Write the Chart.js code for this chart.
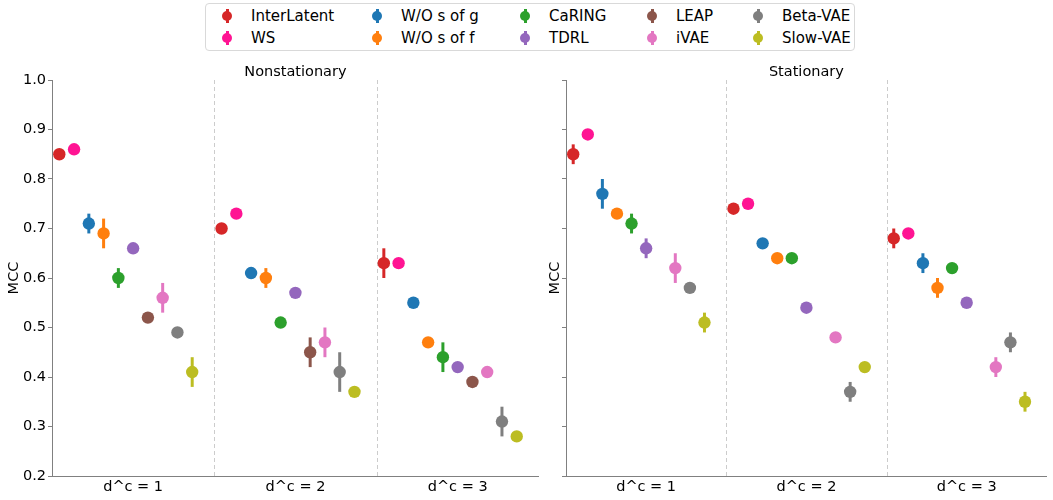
<!DOCTYPE html>
<html>
<head>
<meta charset="utf-8">
<script src="https://cdn.jsdelivr.net/npm/chart.js@4/dist/chart.umd.min.js"></script>
<style>
  html, body { margin: 0; padding: 0; background: #fff; }
  body { width: 1053px; height: 500px; position: relative; overflow: hidden; font-family: 'DejaVu Sans', sans-serif; }
  canvas { position: absolute; }
  #left { left: 0; top: 55px; }
  #right { left: 541px; top: 55px; }
  #legend {
    position: absolute; left: 205px; top: 3px; width: 650px; height: 48px;
    border: 1px solid #d9d9d9; border-radius: 4px; box-sizing: border-box;
    display: grid; grid-template-columns: 150px 148px 127px 106px auto;
    grid-auto-flow: column; grid-template-rows: 22px 22px;
    padding: 1px 0 0 12px; font-size: 15px; color: #000;
  }
  .item { display: flex; align-items: center; white-space: nowrap; }
  .mk { position: relative; width: 18px; height: 16px; margin-right: 15px; }
  .mk .bar { position: absolute; left: 7.5px; top: 1px; width: 3px; height: 14px; }
  .mk .dot { position: absolute; left: 4px; top: 3px; width: 10px; height: 10px; border-radius: 50%; }
</style>
</head>
<body>
<div id="legend"></div>
<canvas id="left" width="545" height="445"></canvas>
<canvas id="right" width="512" height="445"></canvas>
<script>
const methods = ['InterLatent', 'WS', 'W/O s of g', 'W/O s of f', 'CaRING', 'TDRL', 'LEAP', 'iVAE', 'Beta-VAE', 'Slow-VAE'];
const colors = ['#d62728', '#ff1493', '#1f77b4', '#ff7f0e', '#2ca02c', '#9467bd', '#8c564b', '#e377c2', '#7f7f7f', '#bcbd22'];
const groupLabels = ['d^c = 1', 'd^c = 2', 'd^c = 3'];
const yTickValues = [0.2, 0.3, 0.4, 0.5, 0.6, 0.7, 0.8, 0.9, 1.0];

// one row per method, one column per d^c group
const nonstatMean = [
  [0.85, 0.70, 0.63],
  [0.86, 0.73, 0.63],
  [0.71, 0.61, 0.55],
  [0.69, 0.60, 0.47],
  [0.60, 0.51, 0.44],
  [0.66, 0.57, 0.42],
  [0.52, 0.45, 0.39],
  [0.56, 0.47, 0.41],
  [0.49, 0.41, 0.31],
  [0.41, 0.37, 0.28]
];
const nonstatErr = [
  [0.01, 0.01, 0.03],
  [0.01, 0.01, 0.01],
  [0.02, 0.01, 0.01],
  [0.03, 0.02, 0.01],
  [0.02, 0.01, 0.03],
  [0.01, 0.01, 0.01],
  [0.01, 0.03, 0.01],
  [0.03, 0.03, 0.01],
  [0.01, 0.04, 0.03],
  [0.03, 0.01, 0.01]
];
const statMean = [
  [0.85, 0.74, 0.68],
  [0.89, 0.75, 0.69],
  [0.77, 0.67, 0.63],
  [0.73, 0.64, 0.58],
  [0.71, 0.64, 0.62],
  [0.66, 0.54, 0.55],
  [null, null, null],
  [0.62, 0.48, 0.42],
  [0.58, 0.37, 0.47],
  [0.51, 0.42, 0.35]
];
const statErr = [
  [0.02, 0.01, 0.02],
  [0.01, 0.01, 0.01],
  [0.03, 0.01, 0.02],
  [0.01, 0.01, 0.02],
  [0.02, 0.01, 0.01],
  [0.02, 0.01, 0.01],
  [0, 0, 0],
  [0.03, 0.01, 0.02],
  [0.01, 0.02, 0.02],
  [0.02, 0.01, 0.02]
];

const DODGE = 0.091; // horizontal step between methods inside a group
const AXIS_GREY = '#808080';

Chart.defaults.font.family = "'DejaVu Sans', sans-serif";
Chart.defaults.font.size = 14.5;
Chart.defaults.color = '#000';

// legend (shared by both panels)
const legendEl = document.getElementById('legend');
methods.forEach((m, i) => {
  const it = document.createElement('div');
  it.className = 'item';
  it.innerHTML = '<span class="mk"><span class="bar" style="background:' + colors[i] +
    '"></span><span class="dot" style="background:' + colors[i] + '"></span></span><span>' + m + '</span>';
  legendEl.appendChild(it);
});

// dashed group separators + vertical error bars
const errorBars = {
  id: 'errorBars',
  beforeDatasetsDraw(chart) {
    const { ctx, chartArea, scales: { x, y } } = chart;
    ctx.save();
    ctx.strokeStyle = '#cccccc';
    ctx.lineWidth = 1;
    ctx.setLineDash([4, 3]);
    [0.5, 1.5].forEach(v => {
      const px = Math.round(x.getPixelForValue(v)) + 0.5;
      ctx.beginPath();
      ctx.moveTo(px, chartArea.top);
      ctx.lineTo(px, chartArea.bottom);
      ctx.stroke();
    });
    ctx.setLineDash([]);
    ctx.lineWidth = 3;
    chart.data.datasets.forEach(ds => {
      ctx.strokeStyle = ds.backgroundColor;
      ds.data.forEach(p => {
        if (p.y == null || !p.err) return;
        const px = x.getPixelForValue(p.x);
        ctx.beginPath();
        ctx.moveTo(px, y.getPixelForValue(p.y - p.err));
        ctx.lineTo(px, y.getPixelForValue(p.y + p.err));
        ctx.stroke();
      });
    });
    ctx.restore();
  }
};

function makeChart(id, title, means, errs, showLabels, yWidth, padRight) {
  const datasets = methods.map((m, i) => ({
    label: m,
    data: means[i].map((v, g) => ({ x: g + (i - 5) * DODGE, y: v, err: errs[i][g] })),
    backgroundColor: colors[i],
    borderColor: colors[i],
    pointRadius: 6.2,
    pointBorderWidth: 0,
    showLine: false
  }));

  return new Chart(document.getElementById(id), {
    type: 'scatter',
    data: { datasets },
    options: {
      responsive: false,
      animation: false,
      layout: { padding: { left: 0, right: padRight, top: 0, bottom: 0 } },
      plugins: {
        legend: { display: false },
        tooltip: { enabled: false },
        title: {
          display: true,
          fullSize: false, // centre over the plot area, not the canvas
          text: title,
          font: { size: 14.5, weight: 'normal', lineHeight: 1 },
          color: '#000',
          padding: { top: 10, bottom: 0.5 }
        }
      },
      scales: {
        x: {
          type: 'linear',
          min: -0.5,
          max: 2.5,
          afterBuildTicks(scale) {
            scale.ticks = groupLabels.map((_, g) => ({ value: g }));
          },
          afterFit(scale) { scale.height = 24; },
          ticks: {
            callback: (v) => groupLabels[v] ?? '',
            padding: 3,
            maxRotation: 0,
            autoSkip: false
          },
          grid: { display: true, drawOnChartArea: false, drawTicks: false },
          border: { display: true, color: AXIS_GREY, width: 1 }
        },
        y: {
          min: 0.2,
          max: 1.0,
          afterBuildTicks(scale) {
            scale.ticks = yTickValues.map(v => ({ value: v }));
          },
          afterFit(scale) { scale.width = yWidth; },
          ticks: {
            display: showLabels,
            callback: (v) => v.toFixed(1),
            padding: 2
          },
          title: { display: true, text: 'MCC', font: { size: 14.5 }, padding: { top: 6, bottom: 0 } },
          grid: { display: true, drawOnChartArea: false, drawTicks: true, tickLength: 4, color: AXIS_GREY },
          border: { display: true, color: AXIS_GREY, width: 1 }
        }
      }
    },
    plugins: [errorBars]
  });
}

makeChart('left', 'Nonstationary', nonstatMean, nonstatErr, true, 52, 4);
makeChart('right', 'Stationary', statMean, statErr, false, 25, 0);
</script>
</body>
</html>
